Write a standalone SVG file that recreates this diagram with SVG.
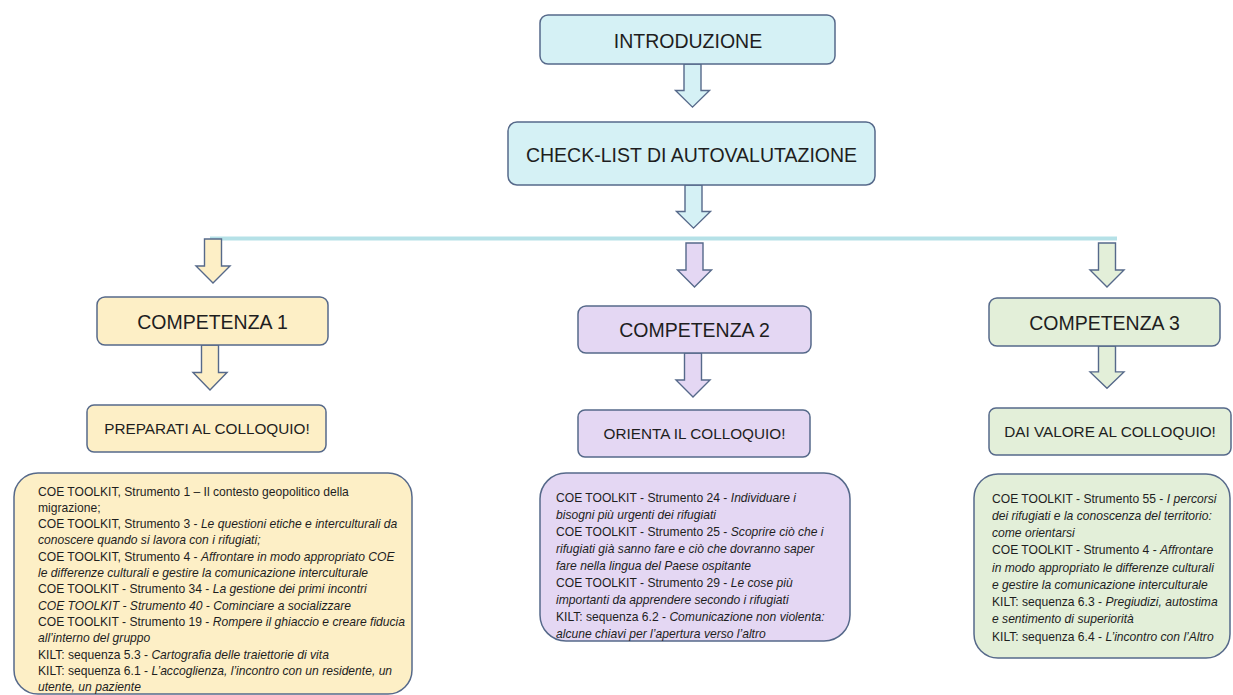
<svg xmlns="http://www.w3.org/2000/svg" xmlns:xlink="http://www.w3.org/1999/xlink" width="1233" height="695" viewBox="0 0 1233 695">
<style>
text{font-family:"Liberation Sans",Arial,sans-serif;fill:#1e1e1e}
.t{font-size:19.5px;text-anchor:middle}
.s{font-size:15.3px;text-anchor:middle}
.b{font-size:12.1px}
.i{font-style:italic}
.box{stroke:#56698a;stroke-width:1.5}
.cy{fill:#d5f1f5}
.ye{fill:#fdefc6}
.pu{fill:#e4d7f3}
.gr{fill:#e3efd9}
.arr{stroke:#56698a;stroke-width:1.4;stroke-linejoin:miter}
</style>
<defs>
<path id="ar" d="M-8.5,0 H8.5 V27 H17 L0,44 L-17,27 H-8.5 Z"/>
</defs>
<rect width="1233" height="695" fill="#ffffff"/>
<g id="connectors">
<rect x="210" y="236.5" width="907" height="4" fill="#b5e1e7"/>
<use xlink:href="#ar" class="arr cy" transform="translate(692.5,64) scale(1,0.98)"/>
<use xlink:href="#ar" class="arr cy" transform="translate(693.5,185) scale(1,0.98)"/>
<use xlink:href="#ar" class="arr ye" transform="translate(213,239)"/>
<use xlink:href="#ar" class="arr pu" transform="translate(694.5,243)"/>
<use xlink:href="#ar" class="arr gr" transform="translate(1107,243)"/>
<use xlink:href="#ar" class="arr ye" transform="translate(210,345) scale(1,1.02)"/>
<use xlink:href="#ar" class="arr pu" transform="translate(693,353)"/>
<use xlink:href="#ar" class="arr gr" transform="translate(1107,346) scale(1,0.96)"/>
</g>
<g id="introduzione">
<rect class="box cy" x="540" y="15" width="295" height="49" rx="8"/>
<text class="t" x="688" y="48">INTRODUZIONE</text>
</g>
<g id="checklist">
<rect class="box cy" x="508" y="122" width="367" height="63" rx="9"/>
<text class="t" x="691.5" y="162">CHECK-LIST DI AUTOVALUTAZIONE</text>
</g>
<g id="competenza1">
<rect class="box ye" x="97" y="297" width="231" height="48" rx="8"/>
<text class="t" x="212.5" y="329">COMPETENZA 1</text>
</g>
<g id="competenza2">
<rect class="box pu" x="578" y="306" width="233" height="47" rx="8"/>
<text class="t" x="694.5" y="337">COMPETENZA 2</text>
</g>
<g id="competenza3">
<rect class="box gr" x="989" y="298" width="231" height="48" rx="8"/>
<text class="t" x="1104.5" y="330">COMPETENZA 3</text>
</g>
<g id="preparati">
<rect class="box ye" x="87" y="405" width="239" height="47" rx="7"/>
<text class="s" x="207" y="434">PREPARATI AL COLLOQUIO!</text>
</g>
<g id="orienta">
<rect class="box pu" x="578" y="410" width="232" height="47" rx="7"/>
<text class="s" x="694.5" y="439">ORIENTA IL COLLOQUIO!</text>
</g>
<g id="daivalore">
<rect class="box gr" x="989" y="408" width="242" height="47" rx="7"/>
<text class="s" x="1110" y="437">DAI VALORE AL COLLOQUIO!</text>
</g>
<g id="risorse1">
<rect class="box ye" x="14" y="473" width="398" height="221" rx="24"/>
<text class="b" x="38" y="495.5">COE TOOLKIT, Strumento 1 – Il contesto geopolitico della</text>
<text class="b" x="38" y="511.8">migrazione;</text>
<text class="b" x="38" y="528.1">COE TOOLKIT, Strumento 3 - <tspan class="i">Le questioni etiche e interculturali da</tspan></text>
<text class="b i" x="38" y="544.4">conoscere quando si lavora con i rifugiati;</text>
<text class="b" x="38" y="560.7">COE TOOLKIT, Strumento 4 - <tspan class="i">Affrontare in modo appropriato COE</tspan></text>
<text class="b i" x="38" y="577">le differenze culturali e gestire la comunicazione interculturale</text>
<text class="b" x="38" y="593.3">COE TOOLKIT - Strumento 34 - <tspan class="i">La gestione dei primi incontri</tspan></text>
<text class="b i" x="38" y="609.6">COE TOOLKIT - Strumento 40 - Cominciare a socializzare</text>
<text class="b" x="38" y="625.9">COE TOOLKIT - Strumento 19 - <tspan class="i">Rompere il ghiaccio e creare fiducia</tspan></text>
<text class="b i" x="38" y="642.2">all’interno del gruppo</text>
<text class="b" x="38" y="658.5">KILT: sequenza 5.3 - <tspan class="i">Cartografia delle traiettorie di vita</tspan></text>
<text class="b" x="38" y="674.8">KILT: sequenza 6.1 - <tspan class="i">L’accoglienza, l’incontro con un residente, un</tspan></text>
<text class="b i" x="38" y="691.1">utente, un paziente</text>
</g>
<g id="risorse2">
<rect class="box pu" x="540" y="473" width="310" height="168" rx="26"/>
<text class="b" x="556" y="501.5">COE TOOLKIT - Strumento 24 - <tspan class="i">Individuare i</tspan></text>
<text class="b i" x="556" y="518.5">bisogni più urgenti dei rifugiati</text>
<text class="b" x="556" y="535.5">COE TOOLKIT - Strumento 25 - <tspan class="i">Scoprire ciò che i</tspan></text>
<text class="b i" x="556" y="552.5">rifugiati già sanno fare e ciò che dovranno saper</text>
<text class="b i" x="556" y="569.5">fare nella lingua del Paese ospitante</text>
<text class="b" x="556" y="586.5">COE TOOLKIT - Strumento 29 - <tspan class="i">Le cose più</tspan></text>
<text class="b i" x="556" y="603.5">importanti da apprendere secondo i rifugiati</text>
<text class="b" x="556" y="620.5">KILT: sequenza 6.2 - <tspan class="i">Comunicazione non violenta:</tspan></text>
<text class="b i" x="556" y="637.5">alcune chiavi per l’apertura verso l’altro</text>
</g>
<g id="risorse3">
<rect class="box gr" x="974" y="474" width="256" height="184" rx="24"/>
<text class="b" x="992" y="502.5">COE TOOLKIT - Strumento 55 - <tspan class="i">I percorsi</tspan></text>
<text class="b i" x="992" y="519.7">dei rifugiati e la conoscenza del territorio:</text>
<text class="b i" x="992" y="537">come orientarsi</text>
<text class="b" x="992" y="554.2">COE TOOLKIT - Strumento 4 - <tspan class="i">Affrontare</tspan></text>
<text class="b i" x="992" y="571.5">in modo appropriato le differenze culturali</text>
<text class="b i" x="992" y="588.7">e gestire la comunicazione interculturale</text>
<text class="b" x="992" y="606">KILT: sequenza 6.3 - <tspan class="i">Pregiudizi, autostima</tspan></text>
<text class="b i" x="992" y="623.2">e sentimento di superiorità</text>
<text class="b" x="992" y="640.5">KILT: sequenza 6.4 - <tspan class="i">L’incontro con l’Altro</tspan></text>
</g>
</svg>
